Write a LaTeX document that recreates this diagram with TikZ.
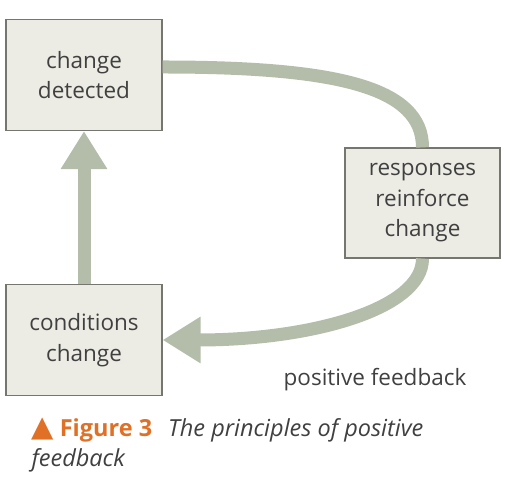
\documentclass[tikz,border=0pt]{standalone}
\usepackage{fontspec}
\setsansfont{Open Sans}
\newfontfamily\symbolfont{DejaVu Sans}
\usepackage{tikz}
\usetikzlibrary{
  arrows.meta,
  positioning
}
\definecolor{boxFill}{RGB}{236, 236, 228}
\definecolor{boxBorder}{RGB}{118, 118, 112}
\definecolor{loopGreen}{RGB}{180, 189, 169}
\definecolor{textGray}{RGB}{64, 64, 64}
\definecolor{figOrange}{RGB}{224, 112, 38}

\begin{document}
\begin{tikzpicture}[
    x=1pt, y=1pt,
    font=\sffamily\fontsize{22.5}{30.5}\selectfont,
    box/.style={rectangle, draw=boxBorder, fill=boxFill, line width=1.2pt, align=center, text=textGray, minimum width=156pt, minimum height=111pt, inner sep=0pt},
    arrow/.style={-{Triangle[length=38pt, width=44pt]}, draw=loopGreen, line width=13pt}
]
    \useasboundingbox (0,0) rectangle (525,489);

    \node[box] (detected) at (84,414) {change\\detected};
    \node[box, minimum width=155pt, minimum height=110pt] (responses) at (422.5,286) {responses\\reinforce\\change};
    \node[box] (conditions) at (84,149) {conditions\\change};

    % feedback loop
    \draw[arrow] (conditions.north) -- (detected.south);
    \draw[draw=loopGreen, line width=13pt] ([yshift=8pt]detected.east) .. controls +(175,0) and +(0,60) .. (responses.north);
    \draw[arrow] (responses.south) .. controls +(0,-50) and +(150,0) .. (conditions.east);

    \node[text=textGray] (label) at (375,109) {positive feedback};

    \node[anchor=base west, align=left, text=textGray, font=\sffamily\fontsize{23.5}{30}\selectfont] (caption) at (28,22) {{\symbolfont\color{figOrange}\fontsize{29}{30}\selectfont ▲}\hspace{6pt}\textcolor{figOrange}{\bfseries Figure 3}\hspace{16pt}\itshape The principles of positive\\\itshape feedback};
\end{tikzpicture}
\end{document}
